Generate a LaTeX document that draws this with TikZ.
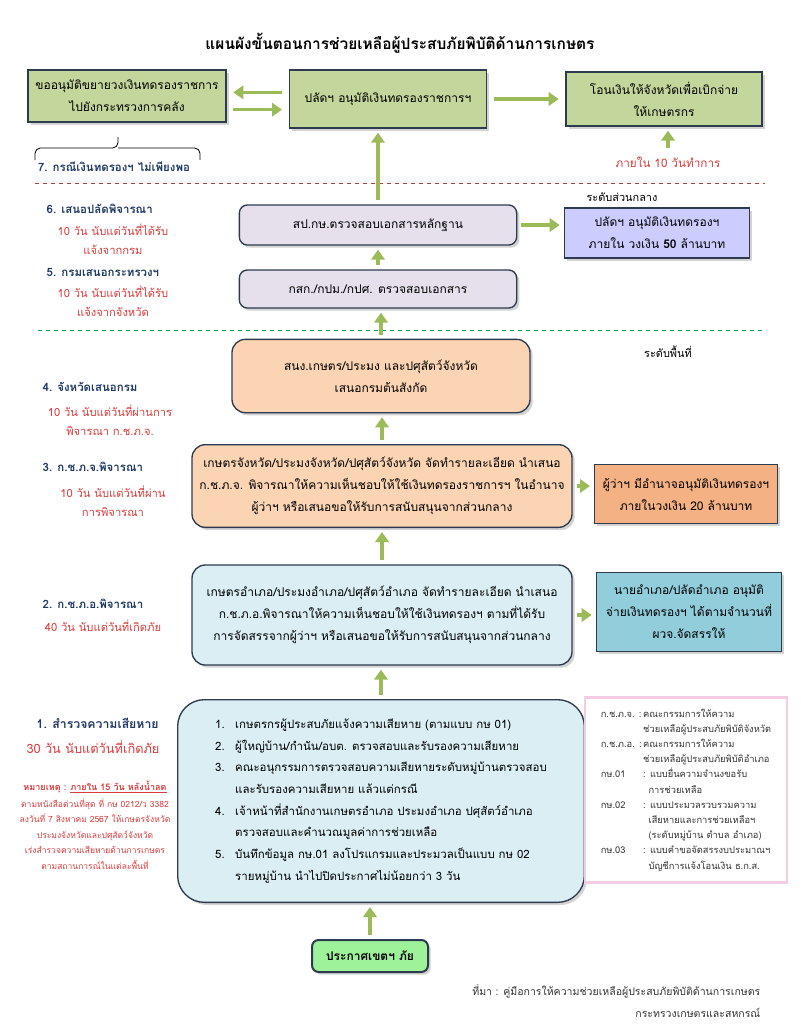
\documentclass[tikz,border=0pt]{standalone}
\usepackage{fontspec}
\setmainfont{Loma}[Script=Thai]
\usetikzlibrary{arrows.meta,shadows}

\definecolor{navytext}{HTML}{1F3864}
\definecolor{redtext}{HTML}{DA3B3B}
\definecolor{arrowgreen}{HTML}{9BBB59}
\definecolor{boxline}{HTML}{2E3B4E}
\definecolor{olivebox}{HTML}{C3D69B}
\definecolor{lavenderbox}{HTML}{E5E0EC}
\definecolor{periwinkle}{HTML}{CCCCFF}
\definecolor{peachbox}{HTML}{FBD4B4}
\definecolor{orangebox}{HTML}{F4B183}
\definecolor{paleblue}{HTML}{DAEEF3}
\definecolor{tealbox}{HTML}{92CDDC}
\definecolor{mintbox}{HTML}{9EF29A}
\definecolor{legendpink}{HTML}{F4CCE4}
\definecolor{lineRed}{HTML}{B0413E}
\definecolor{lineGreen}{HTML}{00B050}

\tikzset{
  box/.style={draw=boxline, line width=1pt, align=center, inner sep=2pt,
    font=\fontsize{9}{16.5}\selectfont,
    drop shadow={shadow xshift=2pt, shadow yshift=-2pt, opacity=0.35}},
  flow/.style={draw=arrowgreen, line width=2.6pt,
    -{Triangle[length=7.5pt,width=10pt]}, shorten <=3pt, shorten >=3pt},
  steptitle/.style={anchor=west, text=navytext, font=\fontsize{8.6}{12}\selectfont\bfseries},
  steptime/.style={text=redtext, align=center, font=\fontsize{8.4}{14.5}\selectfont},
}

\begin{document}
\begin{tikzpicture}[x=0.75pt, y=-0.75pt]
  \useasboundingbox (0,0) rectangle (800,1035);

  % title
  \node[font=\fontsize{11.6}{14}\selectfont\bfseries] (title) at (400,43)
    {แผนผังขั้นตอนการช่วยเหลือผู้ประสบภัยพิบัติด้านการเกษตร};

  % top row: ministry level
  \node[box, fill=olivebox, minimum width=148.5pt, minimum height=39pt] (extend) at (127,96)
    {ขออนุมัติขยายวงเงินทดรองราชการ\\ไปยังกระทรวงการคลัง};
  \node[box, fill=olivebox, minimum width=148pt, minimum height=43.5pt] (psapprove) at (388,99)
    {ปลัดฯ อนุมัติเงินทดรองราชการฯ};
  \node[box, fill=olivebox, minimum width=147pt, minimum height=40.5pt] (transfer) at (664,99)
    {โอนเงินให้จังหวัดเพื่อเบิกจ่าย\\ให้เกษตรกร};

  \draw[flow, shorten <=5pt, shorten >=5pt] ([yshift=5pt]psapprove.west) -- ([yshift=5pt]psapprove.west -| extend.east);
  \draw[flow, shorten <=5pt, shorten >=5pt] ([yshift=-8pt]psapprove.west -| extend.east) -- ([yshift=-8pt]psapprove.west);
  \draw[flow, shorten <=5pt, shorten >=5pt] (psapprove.east) -- (psapprove.east -| transfer.west);

  % brace under the left box
  \draw[line width=0.6pt, rounded corners=4pt] (35,160) |- (118,148) -- (118,137);
  \draw[line width=0.6pt, rounded corners=4pt] (200,160) |- (118,148);
  \node[steptitle, anchor=center] (short) at (114,167) {7. กรณีเงินทดรองฯ ไม่เพียงพอ};

  \node[steptime, font=\fontsize{8.8}{12}\selectfont] (tenwork) at (668,162) {ภายใน 10 วันทำการ};
  \draw[flow] (tenwork.north) -- (tenwork.north |- transfer.south);

  % central level
  \draw[lineRed, dashed, line width=0.7pt] (35,183) -- (765,183);
  \node[font=\fontsize{8.2}{10}\selectfont] (central) at (622,197) {ระดับส่วนกลาง};

  \node[box, fill=lavenderbox, rounded corners=6pt, minimum width=208pt, minimum height=30pt] (spks) at (378,225)
    {สป.กษ.ตรวจสอบเอกสารหลักฐาน};
  \node[box, fill=periwinkle, minimum width=139pt, minimum height=37.5pt] (ps50) at (657,233)
    {ปลัดฯ อนุมัติเงินทดรองฯ\\ภายใน วงเงิน \textbf{50} ล้านบาท};
  \node[box, fill=lavenderbox, rounded corners=6pt, minimum width=208pt, minimum height=28.5pt] (depts) at (378,289)
    {กสก./กปม./กปศ. ตรวจสอบเอกสาร};

  \draw[flow] (spks.north) -- (spks.north |- psapprove.south);
  \draw[flow] (spks.east) -- (spks.east -| ps50.west);
  \draw[flow] (depts.north) -- (spks.south);

  \node[steptitle] (st6) at (42,209) {6. เสนอปลัดพิจารณา};
  \node[steptime] (tm6) at (113,239.5) {10 วัน นับแต่วันที่ได้รับ\\แจ้งจากกรม};
  \node[steptitle] (st5) at (42,272) {5. กรมเสนอกระทรวงฯ};
  \node[steptime] (tm5) at (113,301.5) {10 วัน นับแต่วันที่ได้รับ\\แจ้งจากจังหวัด};

  % local level
  \draw[lineGreen, dashed, line width=0.7pt] (38,330) -- (765,330);
  \node[font=\fontsize{8.2}{10}\selectfont] (local) at (668,352) {ระดับพื้นที่};

  \node[box, fill=peachbox, rounded corners=10pt, minimum width=223.5pt, minimum height=55pt] (provoffice) at (381,376)
    {สนง.เกษตร/ประมง และปศุสัตว์จังหวัด\\เสนอกรมต้นสังกัด};
  \node[box, fill=peachbox, rounded corners=10pt, minimum width=285pt, minimum height=62pt] (kchpj) at (382,486)
    {เกษตรจังหวัด/ประมงจังหวัด/ปศุสัตว์จังหวัด จัดทำรายละเอียด นำเสนอ\\ก.ช.ภ.จ. พิจารณาให้ความเห็นชอบให้ใช้เงินทดรองราชการฯ ในอำนาจ\\ผู้ว่าฯ หรือเสนอขอให้รับการสนับสนุนจากส่วนกลาง};
  \node[box, fill=orangebox, minimum width=137pt, minimum height=44pt] (governor) at (686,494)
    {ผู้ว่าฯ มีอำนาจอนุมัติเงินทดรองฯ\\ภายในวงเงิน 20 ล้านบาท};
  \node[box, fill=paleblue, rounded corners=10pt, minimum width=285pt, minimum height=75pt] (kchpa) at (382,615)
    {เกษตรอำเภอ/ประมงอำเภอ/ปศุสัตว์อำเภอ จัดทำรายละเอียด นำเสนอ\\ก.ช.ภ.อ.พิจารณาให้ความเห็นชอบให้ใช้เงินทดรองฯ ตามที่ได้รับ\\การจัดสรรจากผู้ว่าฯ หรือเสนอขอให้รับการสนับสนุนจากส่วนกลาง};
  \node[box, fill=tealbox, minimum width=139pt, minimum height=59pt] (district) at (689,612)
    {นายอำเภอ/ปลัดอำเภอ อนุมัติ\\จ่ายเงินทดรองฯ ได้ตามจำนวนที่\\ผวจ.จัดสรรให้};
  \node[box, fill=paleblue, rounded corners=20pt, minimum width=305pt, minimum height=152pt, align=left,
    font=\fontsize{8.6}{16.3}\selectfont] (survey) at (381,801)
    {\makebox[15pt][l]{1.}เกษตรกรผู้ประสบภัยแจ้งความเสียหาย (ตามแบบ กษ 01)\\
     \makebox[15pt][l]{2.}ผู้ใหญ่บ้าน/กำนัน/อบต. ตรวจสอบและรับรองความเสียหาย\\
     \makebox[15pt][l]{3.}คณะอนุกรรมการตรวจสอบความเสียหายระดับหมู่บ้านตรวจสอบ\\
     \hspace*{15pt}และรับรองความเสียหาย แล้วแต่กรณี\\
     \makebox[15pt][l]{4.}เจ้าหน้าที่สำนักงานเกษตรอำเภอ ประมงอำเภอ ปศุสัตว์อำเภอ\\
     \hspace*{15pt}ตรวจสอบและคำนวณมูลค่าการช่วยเหลือ\\
     \makebox[15pt][l]{5.}บันทึกข้อมูล กษ.01 ลงโปรแกรมและประมวลเป็นแบบ กษ 02\\
     \hspace*{15pt}รายหมู่บ้าน นำไปปิดประกาศไม่น้อยกว่า 3 วัน};
  \node[box, fill=mintbox, rounded corners=5pt, line width=1.5pt, minimum width=87pt, minimum height=24pt,
    font=\fontsize{9}{12}\selectfont\bfseries] (declare) at (370,956) {ประกาศเขตฯ ภัย};

  \draw[flow] (provoffice.north) -- (provoffice.north |- depts.south);
  \draw[flow] (kchpj.north) -- (kchpj.north |- provoffice.south);
  \draw[flow] (kchpj.east) -- (kchpj.east -| governor.west);
  \draw[flow] (kchpa.north) -- (kchpa.north |- kchpj.south);
  \draw[flow] (kchpa.east) -- (kchpa.east -| district.west);
  \draw[flow] (survey.north) -- (survey.north |- kchpa.south);
  \draw[flow] (declare.north) -- (declare.north |- survey.south);

  % left column: steps and time limits
  \node[steptitle] (st4) at (38,387) {4. จังหวัดเสนอกรม};
  \node[steptime] (tm4) at (110,420) {10 วัน นับแต่วันที่ผ่านการ\\พิจารณา ก.ช.ภ.จ.};
  \node[steptitle] (st3) at (38,467) {3. ก.ช.ภ.จ.พิจารณา};
  \node[steptime] (tm3) at (113,501.5) {10 วัน นับแต่วันที่ผ่าน\\การพิจารณา};
  \node[steptitle] (st2) at (38,604) {2. ก.ช.ภ.อ.พิจารณา};
  \node[steptime] (tm2) at (103,626) {40 วัน นับแต่วันที่เกิดภัย};
  \node[steptitle, font=\fontsize{9.2}{12}\selectfont\bfseries] (st1) at (32,723) {1. สำรวจความเสียหาย};
  \node[steptime, font=\fontsize{9.6}{13}\selectfont] (tm1) at (93,747) {30 วัน นับแต่วันที่เกิดภัย};

  % note
  \node[text=redtext, font=\fontsize{6.8}{9}\selectfont\bfseries] (note) at (95,787)
    {หมายเหตุ : \underline{ภายใน 15 วัน หลังน้ำลด}};
  \node[text=redtext, align=center, font=\fontsize{6.4}{11.6}\selectfont] (letter) at (95,834)
    {ตามหนังสือด่วนที่สุด ที่ กษ 0212/ว 3382\\ลงวันที่ 7 สิงหาคม 2567 ให้เกษตรจังหวัด\\ประมงจังหวัดและปศุสัตว์จังหวัด\\เร่งสำรวจความเสียหายด้านการเกษตร\\ตามสถานการณ์ในแต่ละพื้นที่};

  % glossary
  \node[draw=legendpink, line width=2pt, fill=white, minimum width=151.5pt, minimum height=139pt,
    font=\fontsize{7}{11.4}\selectfont, text=black!80] (glossary) at (686,790)
    {\begin{tabular}{@{}l@{\,}l@{}}
      ก.ช.ภ.จ. : & คณะกรรมการให้ความ\\
       & ช่วยเหลือผู้ประสบภัยพิบัติจังหวัด\\
      ก.ช.ภ.อ. : & คณะกรรมการให้ความ\\
       & ช่วยเหลือผู้ประสบภัยพิบัติอำเภอ\\
      กษ.01 & : แบบยื่นความจำนงขอรับ\\
       & \hspace*{4pt}การช่วยเหลือ\\
      กษ.02 & : แบบประมวลรวบรวมความ\\
       & \hspace*{4pt}เสียหายและการช่วยเหลือฯ\\
       & \hspace*{4pt}(ระดับหมู่บ้าน ตำบล อำเภอ)\\
      กษ.03 & : แบบคำขอจัดสรรงบประมาณฯ\\
       & \hspace*{4pt}บัญชีการแจ้งโอนเงิน ธ.ก.ส.
    \end{tabular}};

  % source
  \node[anchor=east, align=right, text=black!80, font=\fontsize{7.9}{16.5}\selectfont] (source) at (765,1001)
    {ที่มา : คู่มือการให้ความช่วยเหลือผู้ประสบภัยพิบัติด้านการเกษตร\\กระทรวงเกษตรและสหกรณ์};

\end{tikzpicture}
\end{document}
